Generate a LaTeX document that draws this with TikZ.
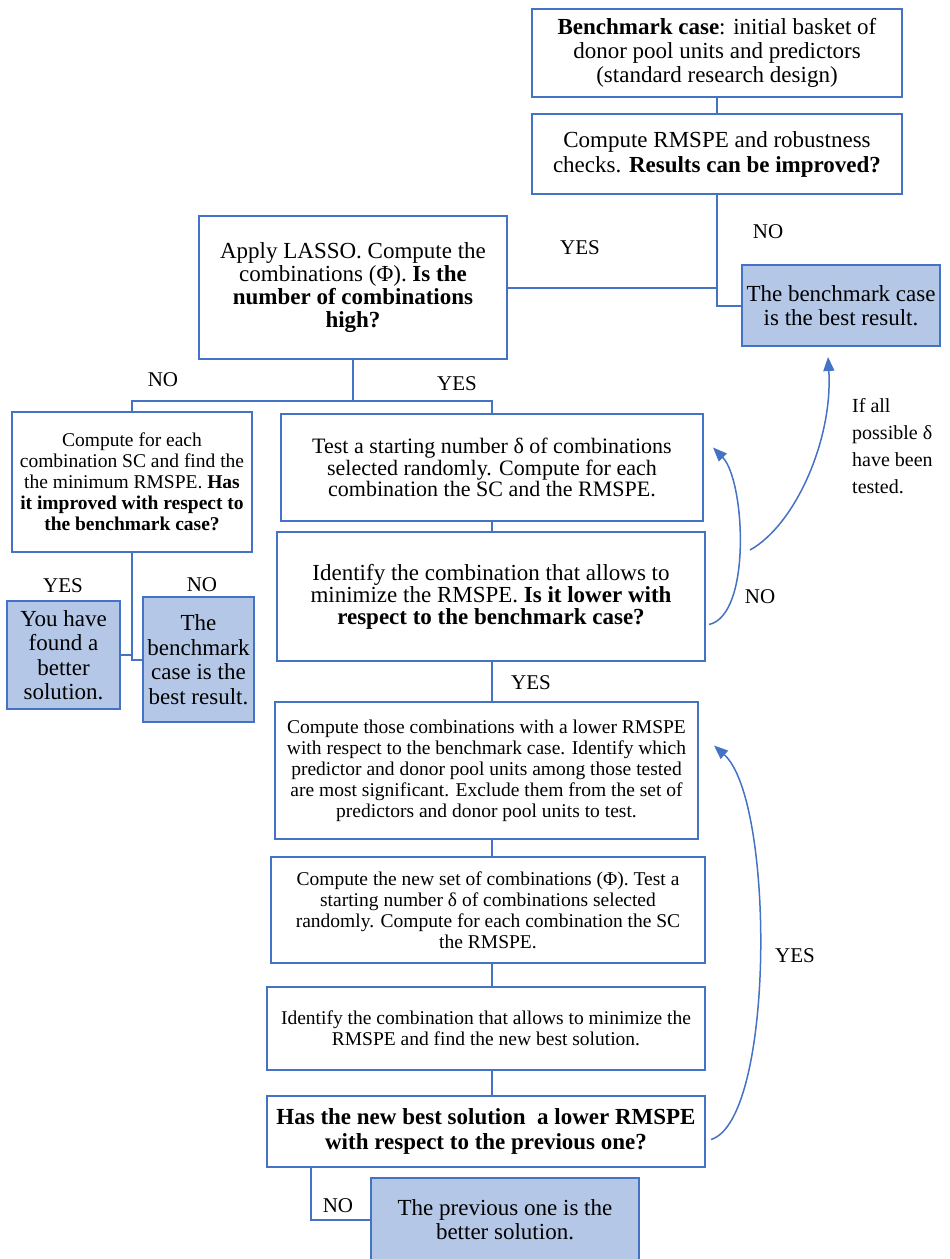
\documentclass[tikz,border=0pt]{standalone}
\usepackage{fontspec}
\setmainfont{Liberation Serif}
\usetikzlibrary{arrows.meta,calc}
\definecolor{boxblue}{HTML}{4472C4}
\definecolor{fillblue}{HTML}{B4C7E7}
\begin{document}
\begin{tikzpicture}[x=1pt,y=-1pt,
	box/.style={draw=boxblue,line width=2pt,fill=white,align=center,inner sep=0pt,font=\fontsize{23}{24}\selectfont},
	result/.style={box,fill=fillblue},
	conn/.style={draw=boxblue,line width=2pt},
	loop/.style={draw=boxblue,line width=1.5pt,-{Triangle[length=14pt,width=11pt]}},
	lbl/.style={inner sep=0pt,font=\fontsize{21}{21}\selectfont}]
	\useasboundingbox (0,0) rectangle (950,1259);
	\node[box,minimum width=370pt,minimum height=88pt] (bench) at (717,53) {\textbf{Benchmark case}: initial basket of\\donor pool units and predictors\\(standard research design)};
	\node[box,minimum width=370pt,minimum height=80pt,font=\fontsize{23}{25}\selectfont] (rmspe) at (717,154) {Compute RMSPE and robustness\\checks. \textbf{Results can be improved?}};
	\node[result,minimum width=198pt,minimum height=81pt] (bestA) at (841,305.5) {The benchmark case\\is the best result.};
	\node[box,minimum width=308pt,minimum height=143pt,font=\fontsize{23}{23}\selectfont] (lasso) at (353,287.5) {Apply LASSO. Compute the\\combinations (Φ). \textbf{Is the}\\\textbf{number of combinations}\\\textbf{high?}};
	\node[box,minimum width=240pt,minimum height=140pt,font=\fontsize{19.5}{21}\selectfont] (check) at (132,482) {Compute for each\\combination SC and find the\\the minimum RMSPE. \textbf{Has}\\\textbf{it improved with respect to}\\\textbf{the benchmark case?}};
	\node[result,minimum width=113pt,minimum height=108pt,font=\fontsize{23}{24.5}\selectfont] (found) at (63.5,655) {You have\\found a\\better\\solution.};
	\node[result,minimum width=111pt,minimum height=125pt,font=\fontsize{23}{24.5}\selectfont] (bestB) at (198.5,659.5) {The\\benchmark\\case is the\\best result.};
	\node[box,minimum width=422pt,minimum height=107pt,font=\fontsize{22}{20}\selectfont] (test) at (492,467.5) {Test a starting number δ of combinations\\selected randomly. Compute for each\\combination the SC and the RMSPE.};
	\node[box,minimum width=428pt,minimum height=129pt,font=\fontsize{23}{22}\selectfont] (ident) at (491,596.5) {Identify the combination that allows to\\minimize the RMSPE. \textbf{Is it lower with}\\\textbf{respect to the benchmark case?}};
	\node[box,minimum width=423pt,minimum height=137pt,font=\fontsize{19.5}{21}\selectfont] (those) at (486.5,770.5) {Compute those combinations with a lower RMSPE\\with respect to the benchmark case. Identify which\\predictor and donor pool units among those tested\\are most significant. Exclude them from the set of\\predictors and donor pool units to test.};
	\node[box,minimum width=434pt,minimum height=106pt,font=\fontsize{19.5}{21}\selectfont] (newset) at (488,910) {Compute the new set of combinations (Φ). Test a\\starting number δ of combinations selected\\randomly. Compute for each combination the SC\\the RMSPE.};
	\node[box,minimum width=438pt,minimum height=83pt,font=\fontsize{19.5}{21}\selectfont] (ident2) at (486,1028.5) {Identify the combination that allows to minimize the\\RMSPE and find the new best solution.};
	\node[box,minimum width=438pt,minimum height=71pt,font=\fontsize{23}{25}\selectfont\bfseries] (has) at (486,1131.5) {Has the new best solution\ \ a lower RMSPE\\with respect to the previous one?};
	\node[result,minimum width=268pt,minimum height=84pt] (prev) at (505,1220) {The previous one is the\\better solution.};
	% yes / no labels
	\node[lbl] (yesA) at (580,248) {YES};
	\node[lbl] (noA) at (768,232) {NO};
	\node[lbl] (noB) at (163,380) {NO};
	\node[lbl] (yesB) at (457,384) {YES};
	\node[lbl] (yesC) at (63,586) {YES};
	\node[lbl] (noC) at (202,585) {NO};
	\node[lbl] (noD) at (760,597) {NO};
	\node[lbl] (yesD) at (531,683) {YES};
	\node[lbl] (yesE) at (795,956) {YES};
	\node[lbl] (noE) at (338,1206) {NO};
	\node[lbl,anchor=north west,align=left,font=\fontsize{20}{27}\selectfont] (tested) at (852,398) {If all\\possible δ\\have been\\tested.};
	% connectors
	\draw[conn] (bench) -- (rmspe);
	\draw[conn] (rmspe.south) |- (bestA.west);
	\draw[conn] (lasso.east) -- (lasso.east -| rmspe.south);
	\coordinate (fork) at (353,401);
	\draw[conn] (lasso.south) -- (fork) -| (check.north);
	\draw[conn] (fork) -| (test.north);
	\draw[conn] (check.south) |- (found.east);
	\draw[conn] (check.south) |- (bestB.west);
	\coordinate (spine) at (492,0);
	\foreach \a/\b in {test/ident,ident/those,those/newset,newset/ident2,ident2/has}
		\draw[conn] (\a.south -| spine) -- (\b.north -| spine);
	\draw[conn] ([xshift=45pt]has.south west) |- (prev.west);
	% loops back
	\coordinate (allstart) at (750,550);
	\draw[loop] ($(ident.east)+(3,28)$) .. controls (752,615) and (745,480) .. ($(test.east)+(9,-20)$);
	\draw[loop] (allstart) .. controls (795,525) and (833,440) .. ($(bestA.south)+(-13,10)$);
	\draw[loop] ($(has.east)+(5,8)$) .. controls (775,1120) and (775,800) .. ($(those.east)+(15,-25)$);
\end{tikzpicture}
\end{document}
